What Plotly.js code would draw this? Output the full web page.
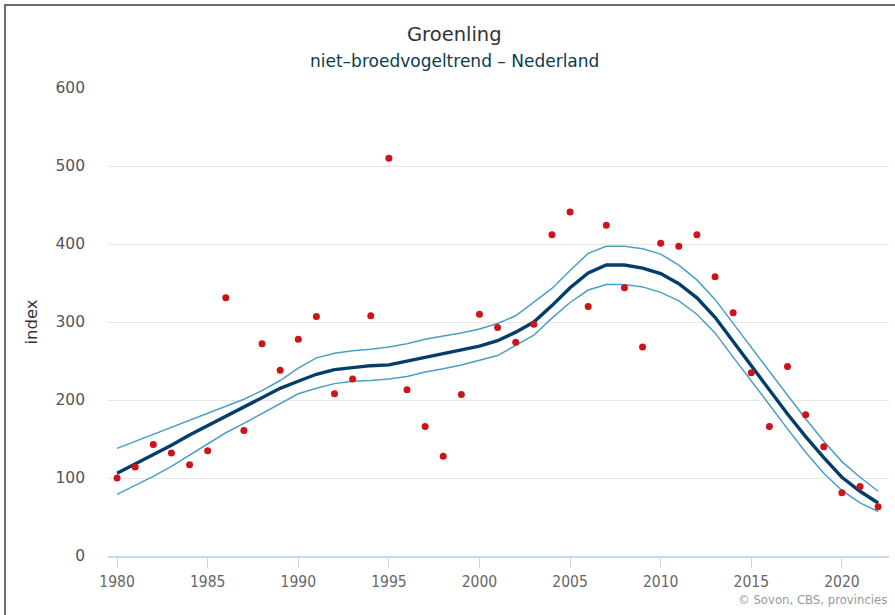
<!DOCTYPE html>
<html>
<head>
<meta charset="utf-8">
<script src="https://cdn.plot.ly/plotly-3.0.1.min.js"></script>
<style>
  html, body { margin: 0; padding: 0; background: #fff; }
  #wrap { position: relative; width: 895px; height: 615px; }
  #chart { width: 895px; height: 615px; }
  #frame { position: absolute; left: 4px; top: 4px; right: 0; bottom: 0;
           border-left: 2px solid #6e6e6e; border-top: 2px solid #6e6e6e; pointer-events: none; }
</style>
</head>
<body>
<div id="wrap"><div id="chart"></div><div id="frame"></div></div>
<script>
const years = [1980,1981,1982,1983,1984,1985,1986,1987,1988,1989,1990,1991,1992,1993,1994,1995,1996,1997,1998,1999,2000,2001,2002,2003,2004,2005,2006,2007,2008,2009,2010,2011,2012,2013,2014,2015,2016,2017,2018,2019,2020,2021,2022];

const observed = [100,114,143,132,117,135,331,161,272,238,278,307,208,227,308,510,213,166,128,207,310,293,274,297,412,441,320,424,344,268,401,397,412,358,312,235,166,243,181,140,81,89,63];

const trend = [106,118,129,142,155,167,179,191,204,215,224,233,239,242,244,245,250,255,259,264,269,276,287,300,321,344,363,373,373,369,362,349,331,306,275,244,213,182,153,126,101,83,68];

const upper = [138,147,156,165,174,183,192,201,212,225,241,254,260,263,265,268,272,278,282,286,291,298,308,325,343,366,388,397,397,394,387,373,354,329,298,267,237,206,176,147,121,101,83];

const lower = [79,90,102,115,129,144,158,170,183,195,208,215,221,224,225,227,230,236,240,245,251,257,270,283,305,325,341,348,348,345,338,327,310,286,255,225,194,163,133,106,84,68,57];

const titleText = 'Groenling';
const subtitleText = 'niet\u2013broedvogeltrend \u2013 Nederland';
const yTitle = 'index';
const creditText = '\u00a9 Sovon, CBS, provincies';
const xTicks = [1980,1985,1990,1995,2000,2005,2010,2015,2020];
const yTicks = [0,100,200,300,400,500,600];

const traces = [
  { x: years, y: upper, type: 'scatter', mode: 'lines', line: {color: '#4a9fc6', width: 1.5}, hoverinfo: 'skip' },
  { x: years, y: lower, type: 'scatter', mode: 'lines', line: {color: '#4a9fc6', width: 1.5}, hoverinfo: 'skip' },
  { x: years, y: trend, type: 'scatter', mode: 'lines', line: {color: '#033d6b', width: 3.4} },
  { x: years, y: observed, type: 'scatter', mode: 'markers', marker: {color: '#cc1419', size: 7} }
];

const layout = {
  width: 895, height: 615,
  margin: {l: 108, r: 6, t: 88, b: 59},
  paper_bgcolor: '#fff', plot_bgcolor: '#fff',
  showlegend: false,
  font: {family: 'DejaVu Sans, sans-serif', color: '#555'},
  xaxis: {
    range: [1979.5, 2022.6],
    tickvals: xTicks,
    ticktext: xTicks.map(String),
    showgrid: false, zeroline: false,
    showline: true, linecolor: '#ccd6eb', linewidth: 2,
    ticks: 'outside', ticklen: 10, tickcolor: '#ccd6eb', tickwidth: 1,
    tickfont: {family: 'Liberation Sans Narrow, DejaVu Sans Condensed, sans-serif', size: 15.5, color: '#666'},
    fixedrange: true
  },
  yaxis: {
    range: [0, 600],
    tickvals: yTicks,
    showgrid: true, gridcolor: '#e6e6e6', gridwidth: 1,
    zeroline: false, showline: false,
    ticks: '', ticklabelstandoff: 22,
    tickfont: {family: 'DejaVu Sans, sans-serif', size: 15.5, color: '#555'},
    title: {text: yTitle, font: {family: 'DejaVu Sans, sans-serif', size: 16.5, color: '#333'}, standoff: 13},
    fixedrange: true
  },
  annotations: [
    { text: titleText, xref: 'paper', yref: 'paper', x: (454-108)/781, y: 1 + (88-35)/468,
      xanchor: 'center', yanchor: 'middle', showarrow: false,
      font: {family: 'DejaVu Sans, sans-serif', size: 19.5, color: '#333'} },
    { text: subtitleText, xref: 'paper', yref: 'paper', x: (454-108)/781, y: 1 + (88-61)/468,
      xanchor: 'center', yanchor: 'middle', showarrow: false,
      font: {family: 'DejaVu Sans, sans-serif', size: 17, color: '#0b3c4d'} },
    { text: creditText, xref: 'paper', yref: 'paper', x: 1, y: -(599-556)/468,
      xanchor: 'right', yanchor: 'middle', showarrow: false,
      font: {family: 'Liberation Sans Narrow, DejaVu Sans Condensed, sans-serif', size: 13, color: '#999'} }
  ]
};

Plotly.newPlot('chart', traces, layout, {displayModeBar: false, staticPlot: true});
</script>
</body>
</html>
